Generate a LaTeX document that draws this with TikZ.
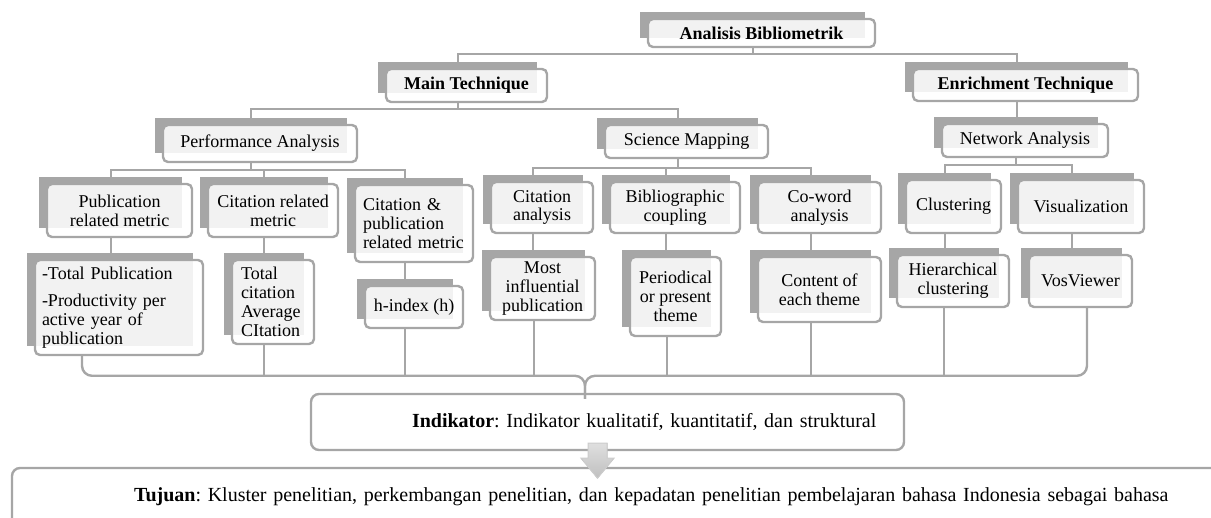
\documentclass[tikz,border=0pt]{standalone}
\usepackage{fontspec}
\setmainfont{Liberation Serif}
\usetikzlibrary{calc}
\definecolor{backgray}{HTML}{A6A6A6}
\definecolor{linegray}{HTML}{A6A6A6}
\pgfdeclarelayer{background}
\pgfsetlayers{background,main}
\frenchspacing
\tikzset{
  card/.style={draw=linegray, line width=1.2pt, rounded corners=2.5pt, fill=white,
    fill opacity=.86, text opacity=1, align=center, inner sep=1pt},
  wh/.style 2 args={minimum width=#1*0.5pt, minimum height=#2*0.5pt},
  conn/.style={draw=linegray, line width=1.2pt},
  bigbox/.style={draw=linegray, line width=1.2pt, rounded corners=4pt, fill=white,
    align=left, inner xsep=0pt, font=\fontsize{10}{12}\selectfont}
}
% front card with its grey block behind
\newcommand\card[4][]{%
  \node[card,#1] (#2) at (#3) {#4};
  \begin{pgfonlayer}{background}
    \fill[backgray] ([shift={(-6.5,-6)}]#2.north west) rectangle ([shift={(-11,-10.5)}]#2.south east);
  \end{pgfonlayer}
  \coordinate (#2-t) at ($(#2.north)+(-8.75,-6)$);
  \coordinate (#2-b) at ($(#2.south)+(-8.75,0)$);
}

\begin{document}
\begin{tikzpicture}[x=0.5pt, y=-0.5pt, font=\fontsize{9}{9.4}\selectfont]
\useasboundingbox (0,0) rectangle (1211,518);
\clip (0,0) rectangle (1211,518);

% levels 1 and 2
\card[wh={227}{28}]{ab}{761.5,33}{\textbf{Analisis Bibliometrik}}
\card[wh={161}{33}]{mt}{466.5,85.5}{\textbf{Main Technique}}
\card[wh={225}{32}]{et}{1025.5,85}{\textbf{Enrichment Technique}}
\card[wh={194}{37}]{pa}{260,143.5}{Performance Analysis}
\card[wh={163}{33}]{sm}{686.5,141.5}{Science Mapping}
\card[wh={166}{33}]{na}{1025,140.5}{Network Analysis}

% level 3
\card[wh={145}{53}]{prm}{119.5,210.5}{Publication\\related metric}
\card[wh={130}{53}]{crm}{273,210.5}{Citation related\\metric}
\card[wh={118}{77}, text width=51pt, align=left]{cpm}{414,223.5}{Citation \&\\publication\\related metric}
\card[wh={102}{51}]{ca}{542,207.5}{Citation\\analysis}
\card[wh={130}{51}]{bc}{675,207.5}{Bibliographic\\coupling}
\card[wh={123}{51}]{cw}{819.5,207.5}{Co-word\\analysis}
\card[wh={95}{53}]{cl}{953.5,206.5}{Clustering}
\card[wh={126}{53}]{vi}{1081,206.5}{Visualization}

% level 4
\card[wh={168}{95}, text width=77pt, align=left]{tp}{119,307.5}{-Total Publication\\[4pt]-Productivity per\\active year of\\publication}
\card[wh={82}{84}, text width=32pt, align=left]{tc}{273,302}{Total\\citation\\Average\\CItation}
\card[wh={98}{42}]{hi}{414,307}{h-index (h)}
\card[wh={105}{63}]{mi}{542.5,288.5}{Most\\influential\\publication}
\card[wh={91}{79}]{pp}{675.5,296.5}{Periodical\\or present\\theme}
\card[wh={123}{65}]{ce}{819.5,289.5}{Content of\\each theme}
\card[wh={112}{52}]{hc}{953,281}{Hierarchical\\clustering}
\card[wh={103}{52}]{vv}{1080.5,281}{VosViewer}

% result boxes
\node[bigbox, text width=296.5pt, minimum height=28pt] (ind) at (607.5,422)
  {\hspace*{50.5pt}\textbf{Indikator}: Indikator kualitatif, kuantitatif, dan struktural};
\node[bigbox, text width=606.5pt, minimum height=29pt] (tj) at (618.5,497)
  {\hspace*{61pt}\textbf{Tujuan}: Kluster penelitian, perkembangan penelitian, dan kepadatan penelitian pembelajaran bahasa Indonesia sebagai bahasa};

% tree connectors
\draw[conn] (ab-b) -- ++(0,6) -| (mt-t);
\draw[conn] (ab-b) -- ++(0,6) -| (et-t);
\draw[conn] (mt-b) -- ++(0,6) -| (pa-t);
\draw[conn] (mt-b) -- ++(0,6) -| (sm-t);
\draw[conn] (et-b) -- (et-b |- na-t);
\foreach \c in {prm,crm,cpm} \draw[conn] (pa-b) -- ++(0,7) -| (\c-t);
\foreach \c in {ca,bc,cw} \draw[conn] (sm-b) -- ++(0,9) -| (\c-t);
\foreach \c in {cl,vi} \draw[conn] (na-b) -- ++(0,7) -| (\c-t);
\foreach \a/\b in {prm/tp,crm/tc,cpm/hi,ca/mi,bc/pp,cw/ce,cl/hc,vi/vv}
  \draw[conn] (\a-b) -- (\a-b |- \b-t);

% bracket into Indikator
\coordinate (tip) at ($(ind.north)+(-22.5,6)$);
\coordinate (bus) at ($(tip)+(0,-23)$);
\draw[conn, rounded corners=5] ($(tp.south)+(-37,0)$) |- (bus) -- (tip);
\draw[conn, rounded corners=5] ($(vv.south)+(6.5,0)$) |- (bus) -- (tip);
\foreach \n in {tc,hi,mi,pp,ce,hc} \draw[conn] (\n-b) -- (\n-b |- bus);

% block arrow down to Tujuan
\coordinate (ar) at ($(ind.south)+(-10,-8)$);
\filldraw[top color=gray!25, bottom color=gray!50, draw=gray!40, line width=.5pt]
  (ar) ++(-9.5,0) -- ++(19,0) -- ++(0,15) -- ++(7,0) -- ++(-16.5,20)
  -- ++(-16.5,-20) -- ++(7,0) -- cycle;
\end{tikzpicture}
\end{document}
